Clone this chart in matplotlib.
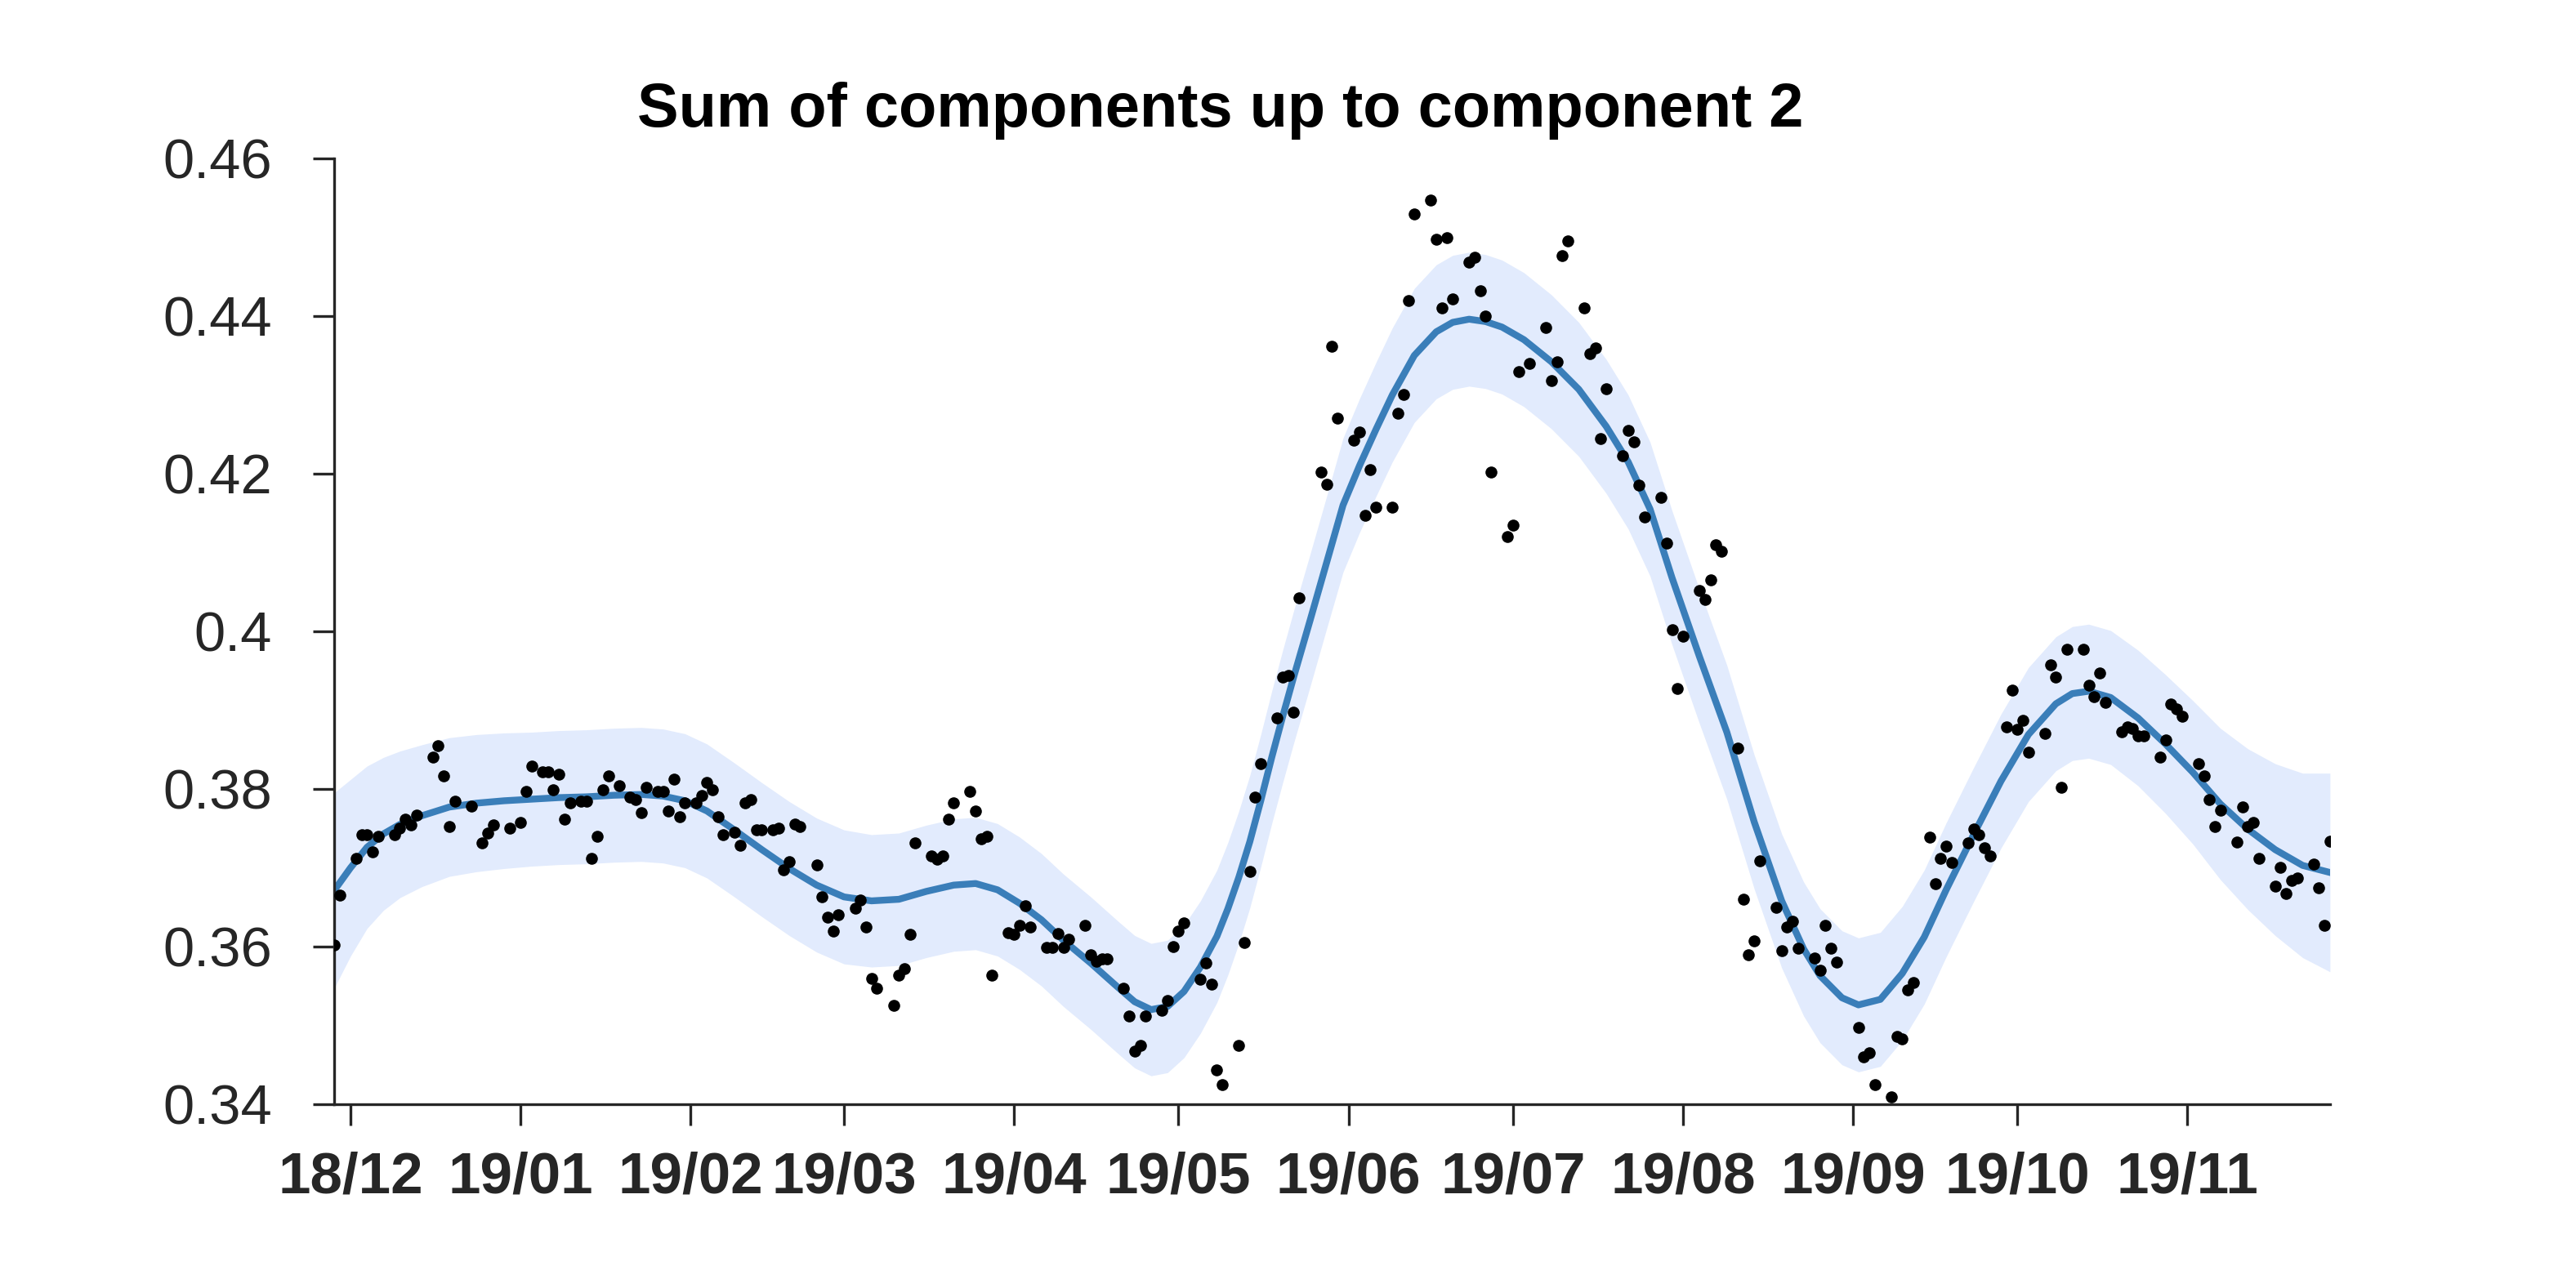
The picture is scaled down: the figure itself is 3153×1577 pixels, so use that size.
import matplotlib
matplotlib.use('Agg')
import matplotlib.pyplot as plt
import matplotlib.dates as mdates
import numpy as np
import pandas as pd

plt.rcParams['font.family'] = ['Liberation Sans', 'DejaVu Sans']

# day offsets are counted from 2018-12-01
start = pd.Timestamp('2018-12-01')

# observed points (day offset, value)
obs_day = [-3, -2, 1, 2, 3, 4, 5, 8, 9, 10, 11, 12, 15, 16, 17, 18, 19, 22, 24, 25,
           26, 29, 31, 32, 33, 35, 36, 37, 38, 39, 40, 42, 43, 44, 45, 46, 47, 49, 51, 52,
           53, 54, 56, 57, 58, 59, 60, 61, 63, 64, 65, 66, 67, 68, 70, 71, 72, 73, 74, 75,
           77, 78, 79, 80, 81, 82, 85, 86, 87, 88, 89, 92, 93, 94, 95, 96, 99, 100, 101, 102,
           103, 106, 107, 108, 109, 110, 113, 114, 115, 116, 117, 120, 121, 122, 123, 124, 127, 128, 129, 130,
           131, 134, 135, 136, 137, 138, 141, 142, 143, 144, 145, 148, 149, 150, 151, 152, 155, 156, 157, 158,
           159, 162, 163, 164, 165, 166, 169, 170, 171, 172, 173, 177, 178, 179, 180, 183, 184, 185, 186, 187,
           190, 191, 192, 193, 194, 197, 198, 199, 200, 201, 204, 205, 206, 207, 208, 211, 212, 213, 215, 218,
           219, 220, 221, 222, 225, 226, 227, 228, 229, 232, 233, 234, 235, 236, 239, 240, 241, 242, 243, 246,
           247, 248, 249, 250, 253, 254, 255, 256, 257, 260, 261, 262, 263, 264, 267, 268, 269, 270, 271, 275,
           276, 277, 278, 281, 282, 283, 284, 285, 288, 289, 290, 291, 292, 295, 296, 297, 298, 299, 302, 303,
           304, 305, 306, 309, 310, 311, 312, 313, 316, 317, 318, 319, 320, 323, 324, 325, 326, 327, 330, 331,
           332, 333, 334, 337, 338, 339, 340, 341, 344, 345, 346, 347, 348, 351, 352, 353, 354, 355, 358, 359,
           360, 361]
obs_val = [0.3602, 0.3665, 0.3712, 0.3742, 0.3742, 0.3720, 0.3740, 0.3742, 0.3750, 0.3762,
           0.3754, 0.3767, 0.3840, 0.3855, 0.3817, 0.3752, 0.3784, 0.3778, 0.3732, 0.3744,
           0.3754, 0.3750, 0.3757, 0.3797, 0.3829, 0.3822, 0.3822, 0.3799, 0.3819, 0.3762,
           0.3782, 0.3784, 0.3784, 0.3712, 0.3740, 0.3799, 0.3817, 0.3804, 0.3790, 0.3787,
           0.3770, 0.3802, 0.3797, 0.3797, 0.3772, 0.3812, 0.3765, 0.3782, 0.3782, 0.3792,
           0.3808, 0.3799, 0.3765, 0.3742, 0.3745, 0.3728, 0.3782, 0.3787, 0.3748, 0.3748,
           0.3748, 0.3750, 0.3697, 0.3708, 0.3755, 0.3752, 0.3704, 0.3663, 0.3637, 0.3620,
           0.3640, 0.3649, 0.3659, 0.3625, 0.3560, 0.3547, 0.3525, 0.3564, 0.3572, 0.3615,
           0.3732, 0.3715, 0.3711, 0.3715, 0.3762, 0.3782, 0.3797, 0.3772, 0.3737, 0.3740,
           0.3564, 0.3618, 0.3615, 0.3627, 0.3652, 0.3625, 0.3599, 0.3599, 0.3617, 0.3599,
           0.3609, 0.3627, 0.3590, 0.3581, 0.3584, 0.3584, 0.3547, 0.3512, 0.3467, 0.3475,
           0.3512, 0.3519, 0.3532, 0.3600, 0.3620, 0.3630, 0.3558, 0.3579, 0.3552, 0.3444,
           0.3425, 0.3475, 0.3605, 0.3695, 0.3790, 0.3832, 0.3890, 0.3942, 0.3944, 0.3897,
           0.4042, 0.4202, 0.4187, 0.4362, 0.4270, 0.4242, 0.4253, 0.4147, 0.4205, 0.4157,
           0.4157, 0.4277, 0.4300, 0.4420, 0.4530, 0.4547, 0.4497, 0.4410, 0.4499, 0.4422,
           0.4468, 0.4475, 0.4432, 0.4400, 0.4202, 0.4120, 0.4135, 0.4330, 0.4340, 0.4385,
           0.4318, 0.4342, 0.4477, 0.4495, 0.4410, 0.4352, 0.4360, 0.4245, 0.4308, 0.4223,
           0.4255, 0.4240, 0.4185, 0.4145, 0.4170, 0.4112, 0.4002, 0.3927, 0.3994, 0.4052,
           0.4040, 0.4065, 0.4110, 0.4102, 0.3852, 0.3660, 0.3590, 0.3607, 0.3709, 0.3650,
           0.3595, 0.3625, 0.3632, 0.3598, 0.3585, 0.3570, 0.3627, 0.3598, 0.3580, 0.3497,
           0.3460, 0.3465, 0.3425, 0.3409, 0.3486, 0.3483, 0.3545, 0.3554, 0.3739, 0.3680,
           0.3712, 0.3727, 0.3707, 0.3732, 0.3749, 0.3742, 0.3725, 0.3715, 0.3879, 0.3925,
           0.3876, 0.3887, 0.3847, 0.3870, 0.3957, 0.3942, 0.3802, 0.3977, 0.3977, 0.3932,
           0.3917, 0.3947, 0.3910, 0.3872, 0.3879, 0.3877, 0.3867, 0.3867, 0.3840, 0.3862,
           0.3908, 0.3901, 0.3892, 0.3832, 0.3817, 0.3787, 0.3752, 0.3773, 0.3733, 0.3777,
           0.3752, 0.3757, 0.3712, 0.3677, 0.3700, 0.3667, 0.3684, 0.3687, 0.3705, 0.3675,
           0.3627, 0.3734]

# fitted sum of components and its band half-width
fit_day = [-3, 0, 3, 6, 9, 13, 18, 23, 28, 33, 38, 43, 48, 53, 57, 61, 65, 70, 75, 80,
           85, 90, 95, 100, 105, 110, 114, 118, 122, 126, 130, 135, 140, 143, 146, 149, 152, 155, 158, 160,
           162, 164, 166, 168, 170, 172, 175, 178, 181, 184, 187, 190, 194, 198, 201, 204, 207, 210, 214, 219,
           224, 229, 233, 237, 241, 246, 251, 256, 261, 265, 268, 272, 275, 279, 283, 287, 291, 296, 301, 306,
           311, 314, 317, 321, 326, 331, 336, 341, 346, 351, 356, 361]
fit_mean = [0.3671, 0.3700, 0.3726, 0.3743, 0.3755, 0.3766, 0.3777, 0.3782, 0.3785, 0.3787,
            0.3789, 0.3790, 0.3792, 0.3793, 0.3791, 0.3785, 0.3772, 0.3748, 0.3723, 0.3699,
            0.3678, 0.3663, 0.3658, 0.3660, 0.3670, 0.3678, 0.3680, 0.3672, 0.3655, 0.3634,
            0.3608, 0.3579, 0.3548, 0.3530, 0.3520, 0.3524, 0.3543, 0.3574, 0.3613, 0.3648,
            0.3688, 0.3733, 0.3785, 0.3840, 0.3892, 0.3942, 0.4014, 0.4087, 0.4160, 0.4210,
            0.4256, 0.4300, 0.4350, 0.4380, 0.4392, 0.4396, 0.4393, 0.4386, 0.4370, 0.4342,
            0.4307, 0.4260, 0.4215, 0.4155, 0.4068, 0.3968, 0.3872, 0.3758, 0.3658, 0.3597,
            0.3563, 0.3535, 0.3526, 0.3533, 0.3566, 0.3612, 0.3672, 0.3742, 0.3810, 0.3869,
            0.3908, 0.3921, 0.3924, 0.3916, 0.3890, 0.3857, 0.3821, 0.3781, 0.3749, 0.3723,
            0.3703, 0.3694]
fit_half = [0.0124, 0.0112, 0.0103, 0.0097, 0.0093, 0.0090, 0.0088, 0.0087, 0.0086, 0.0085,
            0.0085, 0.0085, 0.0085, 0.0085, 0.0085, 0.0085, 0.0085, 0.0085, 0.0085, 0.0085,
            0.0085, 0.0085, 0.0084, 0.0084, 0.0084, 0.0084, 0.0084, 0.0084, 0.0084, 0.0084,
            0.0084, 0.0084, 0.0084, 0.0084, 0.0084, 0.0084, 0.0084, 0.0084, 0.0084, 0.0084,
            0.0084, 0.0084, 0.0084, 0.0084, 0.0084, 0.0084, 0.0084, 0.0084, 0.0085, 0.0085,
            0.0085, 0.0085, 0.0085, 0.0085, 0.0085, 0.0085, 0.0085, 0.0085, 0.0085, 0.0085,
            0.0085, 0.0085, 0.0085, 0.0085, 0.0085, 0.0085, 0.0085, 0.0085, 0.0085, 0.0085,
            0.0085, 0.0085, 0.0085, 0.0085, 0.0085, 0.0085, 0.0085, 0.0085, 0.0085, 0.0085,
            0.0085, 0.0085, 0.0085, 0.0085, 0.0086, 0.0088, 0.0091, 0.0096, 0.0102, 0.0109,
            0.0117, 0.0126]

y_ticks = [0.34, 0.36, 0.38, 0.40, 0.42, 0.44, 0.46]
y_labels = ['0.34', '0.36', '0.38', '0.4', '0.42', '0.44', '0.46']

obs_t = start + pd.to_timedelta(obs_day, unit='D')
fit_t = start + pd.to_timedelta(fit_day, unit='D')
mean = np.array(fit_mean)
half = np.array(fit_half)

fig = plt.figure(figsize=(10.51, 5.2567), dpi=300)
ax = fig.add_axes([0.1297, 0.1427, 0.7748, 0.7343])

ax.fill_between(fit_t, mean - half, mean + half, color='#e2ebfd', lw=0, zorder=1)
ax.plot(fit_t, mean, color='#3a7eb9', lw=2.0, zorder=2, solid_joinstyle='round')
ax.plot(obs_t, obs_val, 'o', color='black', ms=3.5, mew=0, zorder=3)

ax.set_xlim(obs_t[0], obs_t[-1])
ax.set_ylim(0.34, 0.46)
ax.set_yticks(y_ticks)
ax.set_yticklabels(y_labels)
ax.xaxis.set_major_locator(mdates.MonthLocator())
ax.xaxis.set_major_formatter(mdates.DateFormatter('%y/%m'))

for s in ['top', 'right']:
    ax.spines[s].set_visible(False)
for s in ['left', 'bottom']:
    ax.spines[s].set_color('#262626')
    ax.spines[s].set_linewidth(0.8)

ax.tick_params(axis='both', direction='out', length=6.2, width=0.8, color='#262626',
               labelcolor='#262626')
ax.tick_params(axis='y', labelsize=16.5, pad=12)
ax.tick_params(axis='x', labelsize=17, pad=7.5)
for lab in ax.get_xticklabels():
    lab.set_fontweight('bold')

fig.text(0.4738, 0.9017, 'Sum of components up to component 2', ha='center', va='baseline',
         fontsize=18.2, fontweight='bold', color='black')

fig.savefig('out.png', dpi=300)
